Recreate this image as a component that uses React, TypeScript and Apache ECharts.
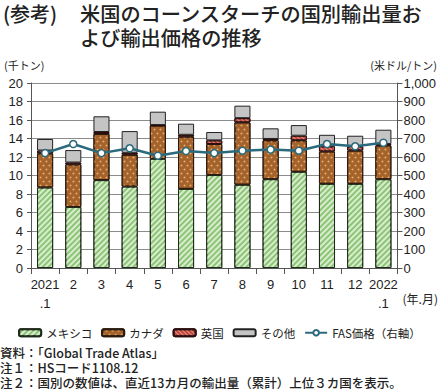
import React, { useEffect, useRef } from "react";
import * as echarts from "echarts";

const categories = ["2021\n.1", "2", "3", "4", "5", "6", "7", "8", "9", "10", "11", "12", "2022\n.1"];
const mexico = [8.7, 6.6, 9.5, 8.8, 11.8, 8.55, 10.05, 9.0, 9.6, 10.4, 9.1, 9.1, 9.6];
const canada = [3.7, 4.6, 5.0, 3.45, 3.6, 5.65, 3.35, 6.75, 4.2, 3.4, 3.5, 3.6, 3.65];
const uk = [0.3, 0.2, 0.2, 0.2, 0.05, 0.2, 0.4, 0.45, 0.15, 0.5, 0.55, 0.45, 0.15];
const other = [1.25, 1.35, 1.7, 2.35, 1.45, 1.2, 0.9, 1.35, 1.15, 1.15, 1.25, 1.15, 1.55];
const fasPrice = [621, 670, 621, 647, 607, 632, 621, 634, 640, 634, 670, 658, 677];
const leftTicks = [0, 20];
const rightTicks = [0, 1000];
const titleLines = ["米国のコーンスターチの国別輸出量お", "よび輸出価格の推移"];
const notes = [
  "資料：「Global Trade Atlas」",
  "注１：HSコード1108.12",
  "注２：国別の数値は、直近13カ月の輸出量（累計）上位３カ国を表示。",
];

const FONT = "'Liberation Sans', 'Noto Sans CJK JP', sans-serif";
const JFONT = "'Noto Sans CJK JP', sans-serif";

export default function App() {
  const ref = useRef<HTMLDivElement>(null);
  useEffect(() => {
    document.body.style.margin = "0";
    const chart = echarts.init(ref.current!, null, { renderer: "svg" });
    const barBase = { type: "bar", stack: "t", barWidth: "57%" };
    const centerText = (
      x: number,
      y: number,
      text: string,
      font: string,
      lineHeight: number,
      align = "left"
    ) => ({
      type: "text",
      x,
      y,
      style: { text, font, lineHeight, fill: "#222", textAlign: align, textVerticalAlign: "middle" },
    });
    chart.setOption({
      animation: false,
      textStyle: { fontFamily: FONT },
      grid: { left: 31, right: 41, top: 83, bottom: 123 },
      legend: {
        top: 322,
        left: "center",
        width: 439,
        itemWidth: 22,
        itemHeight: 7,
        itemGap: 9,
        textStyle: { fontSize: 11.5, color: "#222", fontFamily: JFONT },
        data: ["メキシコ", "カナダ", "英国", "その他", "FAS価格（右軸）"],
      },
      xAxis: {
        type: "category",
        data: categories,
        axisLine: { lineStyle: { color: "#555" } },
        axisTick: { show: true, length: 6, lineStyle: { color: "#555" } },
        axisLabel: { color: "#222", fontSize: 13, lineHeight: 19, margin: 7, interval: 0 },
      },
      yAxis: [
        {
          type: "value",
          min: leftTicks[0],
          max: leftTicks[1],
          interval: 2,
          axisLine: { show: true, lineStyle: { color: "#555" } },
          axisTick: { show: true, length: 4, lineStyle: { color: "#555" } },
          splitLine: { lineStyle: { color: "#8c8c8c" } },
          axisLabel: { color: "#222", fontSize: 13, margin: 8 },
        },
        {
          type: "value",
          min: rightTicks[0],
          max: rightTicks[1],
          interval: 100,
          axisLine: { show: true, lineStyle: { color: "#555" } },
          axisTick: { show: true, length: 5, lineStyle: { color: "#555" } },
          splitLine: { show: false },
          axisLabel: {
            color: "#222",
            fontSize: 13,
            margin: 6,
            formatter: (v: number) => v.toLocaleString("en-US"),
          },
        },
      ],
      series: [
        {
          ...barBase,
          name: "メキシコ",
          data: mexico,
          itemStyle: {
            color: "#8cc478",
            borderColor: "#1e2a1a",
            borderWidth: 1,
            decal: {
              symbol: "rect",
              symbolSize: 1,
              color: "rgba(230,245,220,0.85)",
              dashArrayX: [1, 0],
              dashArrayY: [1.5, 1.5],
              rotation: -Math.PI / 4,
            },
          },
        },
        {
          ...barBase,
          name: "カナダ",
          data: canada,
          itemStyle: {
            color: "#a4622c",
            borderColor: "#2a1a0e",
            borderWidth: 1,
            decal: {
              symbol: "circle",
              symbolSize: 0.6,
              color: "#e8ae6a",
              dashArrayX: [[3, 3], [0, 3, 3, 0]],
              dashArrayY: [3, 1],
            },
          },
        },
        {
          ...barBase,
          name: "英国",
          data: uk,
          itemStyle: {
            color: "#c2473c",
            borderColor: "#2a0e0e",
            borderWidth: 1,
            decal: {
              symbol: "rect",
              symbolSize: 1,
              color: "rgba(240,180,170,0.7)",
              dashArrayX: [1, 0],
              dashArrayY: [1, 2],
              rotation: Math.PI / 4,
            },
          },
        },
        {
          ...barBase,
          name: "その他",
          data: other,
          itemStyle: { color: "#c4c4c4", borderColor: "#222", borderWidth: 1 },
        },
        {
          type: "line",
          name: "FAS価格（右軸）",
          yAxisIndex: 1,
          data: fasPrice,
          symbol: "circle",
          symbolSize: 7,
          lineStyle: { color: "#2b6a7c", width: 2.5 },
          itemStyle: { color: "#ffffff", borderColor: "#2b6a7c", borderWidth: 1.5 },
          z: 5,
        },
      ],
      graphic: [
        centerText(3, 13, "(参考)", `500 20px ${JFONT}`, 22),
        centerText(80, 13, titleLines[0], `500 20.2px ${JFONT}`, 22),
        centerText(80, 37, titleLines[1], `500 20.2px ${JFONT}`, 22),
        centerText(4, 65, "(千トン)", `11px ${JFONT}`, 13),
        centerText(437, 65, "(米ドル/トン)", `11px ${JFONT}`, 13, "right"),
        centerText(438, 298, "(年.月)", `12px ${JFONT}`, 14, "right"),
        centerText(0, 352, notes[0], `500 12.5px ${JFONT}`, 15),
        centerText(0, 367.5, notes[1], `500 12.5px ${JFONT}`, 15),
        centerText(0, 382.5, notes[2], `500 12.5px ${JFONT}`, 15),
      ],
    });
    return () => chart.dispose();
  }, []);
  return <div ref={ref} style={{ width: 439, height: 391 }} />;
}
